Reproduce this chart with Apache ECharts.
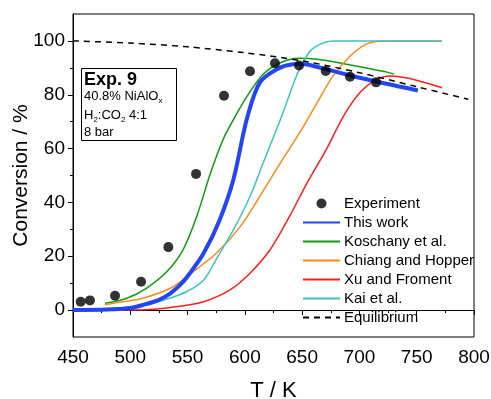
<!DOCTYPE html>
<html>
<head>
<meta charset="utf-8">
<script src="https://cdn.jsdelivr.net/npm/echarts@6/dist/echarts.min.js"></script>
<style>
html,body{margin:0;padding:0;background:#fff;}
#chart{width:491px;height:399px;}
</style>
</head>
<body>
<div id="chart"></div>
<script>
// ---- data ----
var xTicks = [450, 500, 550, 600, 650, 700, 750, 800];
var yTicks = [0, 20, 40, 60, 80, 100];
var experiment = [[456.7,3.1],[464.8,3.6],[486.7,5.3],[509.4,10.5],[533.2,23.4],[557.4,50.6],[581.8,79.6],[604.5,88.7],[626.3,91.7],[647.3,90.9],[670.6,88.8],[691.8,86.7],[714.5,84.6]];
var thisWork = [[450,0],[480,0.2],[500,0.8],[511,1.9],[525,3.8],[535,6.2],[545,10],[552,13.7],[564,21.1],[578,33.5],[590,48.5],[601.6,70.8],[613,84.5],[628,89.5],[642,91.3],[650,91.4],[660,90.7],[700,86.3],[751,81.6]];
var koschany = [[478,2.5],[497,4.4],[514,8.1],[532,14.3],[546,22.4],[558,34.8],[570,50.9],[581,63.4],[590,70.8],[602,79.5],[616,87.6],[631,91.9],[647,93.6],[665,93.1],[683,91.8],[706,89.9],[724,88.4],[730,87.7]];
var chiang = [[478,2],[495,3.2],[511,4.4],[535,8.1],[555,14.3],[575,21.1],[596,31],[613,42.2],[631,54.7],[648,66],[663,77],[677,87],[692,94.4],[706,98.8],[721,100],[772,100]];
var xuFroment = [[450,0],[511,0.1],[540,1.2],[564,3.1],[587,7.5],[604.5,13.7],[622,22.4],[639,34.8],[654,47],[671,59.6],[686,72],[700.5,80.8],[715,85.7],[727,87],[744,86],[772,82.6]];
var kai = [[450,0],[510,1.5],[530,3.8],[549,6.8],[564,11.2],[578,21.1],[590,29.8],[604.5,42.2],[616,54.7],[631,70.8],[645,87],[651,92],[657,96.3],[666,98.8],[677,100],[772,100]];
var equilibrium = [[450,100],[500,99.2],[550,97.8],[600,95.6],[650,92.6],[700,88.2],[750,83.0],[795,78.3]];
var legendNames = ['Experiment','This work','Koschany et al.','Chiang and Hopper','Xu and Froment','Kai et al.','Equilibrium'];

var FONT = "'Liberation Sans', Arial, sans-serif";
var chart = echarts.init(document.getElementById('chart'), null, {renderer:'canvas'});

function lineSeries(name, data, color, width, z, extra) {
  var s = {
    name: name, type: 'line', data: data, symbol: 'none', smooth: 0.3,
    lineStyle: {color: color, width: width}, itemStyle: {color: color}, z: z, silent: true, animation: false
  };
  if (extra) for (var k in extra) s.lineStyle[k] = extra[k];
  return s;
}
var hidden = {color: 'rgba(0,0,0,0)', borderWidth: 0, opacity: 0};
function legendItem(name) { return {name: name, itemStyle: hidden}; }

var option = {
  animation: false,
  backgroundColor: '#fff',
  grid: {left: 73, right: 17, top: 14, bottom: 62, show: true, borderColor: '#000', borderWidth: 1,
         containLabel: false, outerBoundsMode: 'none'},
  xAxis: {
    type: 'value', min: 450, max: 800, interval: 50,
    name: 'T / K', nameLocation: 'middle', nameGap: 43, nameMoveOverlap: false,
    nameTextStyle: {fontFamily: FONT, fontSize: 22, color: '#000', verticalAlign: 'top'},
    axisLine: {lineStyle: {color: '#000', width: 1}},
    axisTick: {show: true, length: 5, lineStyle: {color: '#000'}},
    minorTick: {show: true, splitNumber: 2, length: 3, lineStyle: {color: '#000'}},
    axisLabel: {fontFamily: FONT, fontSize: 19, color: '#000', margin: 11,
      customValues: xTicks},
    splitLine: {show: false}
  },
  yAxis: [{
    type: 'value', min: -10, max: 110, interval: 10,
    name: 'Conversion / %', nameLocation: 'middle', nameGap: 41, nameMoveOverlap: false,
    nameTextStyle: {fontFamily: FONT, fontSize: 21, color: '#000'},
    axisLine: {show: true, lineStyle: {color: '#000', width: 1}},
    axisTick: {show: true, length: 5, lineStyle: {color: '#000'}, customValues: yTicks},
    axisLabel: {fontFamily: FONT, fontSize: 19, color: '#000', margin: 8, customValues: yTicks},
    splitLine: {show: false}
  },{
    type: 'value', min: -10, max: 110, interval: 10, position: 'left',
    axisLine: {show: false},
    axisTick: {show: true, length: 3, lineStyle: {color: '#000'}, customValues: [10,30,50,70,90]},
    axisLabel: {show: false},
    splitLine: {show: false}
  }],
  legend: {
    left: 297, top: 191, orient: 'vertical', itemWidth: 37, itemHeight: 10, itemGap: 4,
    textStyle: {fontFamily: FONT, fontSize: 15, color: '#000', padding: [0,0,0,-1]},
    data: [
      {name: 'Experiment', icon: 'circle', itemStyle: {color: '#000'}},
      legendItem('This work'), legendItem('Koschany et al.'), legendItem('Chiang and Hopper'),
      legendItem('Xu and Froment'), legendItem('Kai et al.'), legendItem('Equilibrium')
    ],
    selectedMode: false
  },
  series: [
    lineSeries(legendNames[2], koschany, '#119a11', 1.5, 2),
    lineSeries(legendNames[3], chiang, '#ff8a1c', 1.5, 2),
    lineSeries(legendNames[5], kai, '#3fc2c2', 1.5, 2),
    lineSeries(legendNames[4], xuFroment, '#ff1f1f', 1.5, 3),
    lineSeries(legendNames[1], thisWork, '#2445f5', 4, 4),
    lineSeries(legendNames[6], equilibrium, '#000', 1.5, 5, {type: [6,5]}),
    {name: legendNames[0], type: 'scatter', data: experiment, symbol: 'circle', symbolSize: 10,
     itemStyle: {color: '#000'}, z: 6, silent: true, animation: false}
  ],
  graphic: [
    {type: 'rect', left: 81, top: 68, z: 100, shape: {width: 95, height: 72},
     style: {fill: '#fff', stroke: '#000', lineWidth: 1}},
    {type: 'text', left: 84, top: 71, z: 101,
     style: {text: 'Exp. 9', font: "bold 18px 'Liberation Sans', Arial, sans-serif", fill: '#000'}},
    {type: 'text', left: 84, top: 90, z: 101,
     style: {text: '40.8% NiAlO{s|x}', font: "13px 'Liberation Sans', Arial, sans-serif", fill: '#000',
       rich: {s: {fontSize: 8, fontFamily: FONT, fill: '#000', padding: [8,0,0,0]}}}},
    {type: 'text', left: 84, top: 109, z: 101,
     style: {text: 'H{s|2}:CO{s|2} 4:1', font: "13px 'Liberation Sans', Arial, sans-serif", fill: '#000',
       rich: {s: {fontSize: 8, fontFamily: FONT, fill: '#000', padding: [8,0,0,0]}}}},
    {type: 'text', left: 84, top: 126, z: 101,
     style: {text: '8 bar', font: "13px 'Liberation Sans', Arial, sans-serif", fill: '#000'}}
  ]
};
chart.setOption(option);
</script>
</body>
</html>
